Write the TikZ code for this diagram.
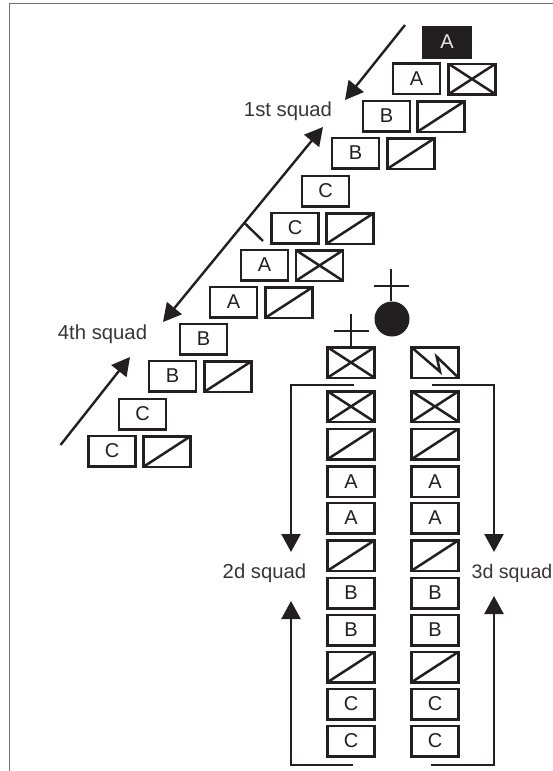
\documentclass[tikz,border=0pt]{standalone}
\usepackage{fontspec}
\setmainfont{Liberation Sans}
\usetikzlibrary{arrows.meta}
\definecolor{ink}{HTML}{231F20}
\definecolor{framegray}{HTML}{707070}
\tikzset{
  unitbox/.style={draw=ink,line width=2.5pt,minimum width=47pt,minimum height=30.5pt,inner sep=0pt,
    text=ink,font=\fontsize{20}{21}\selectfont,fill=white},
  blackbox/.style={unitbox,fill=ink,draw=ink,text=white!90!black},
  diagbox/.style={unitbox,path picture={\draw[ink,line width=2.5pt]
    (path picture bounding box.south west)--(path picture bounding box.north east);}},
  crossbox/.style={unitbox,path picture={\draw[ink,line width=2.5pt]
    (path picture bounding box.south west)--(path picture bounding box.north east)
    (path picture bounding box.north west)--(path picture bounding box.south east);}},
  boltbox/.style={unitbox,path picture={\draw[ink,line width=2.5pt]
    (path picture bounding box.north west)
    --([shift={(5,9.2)}]path picture bounding box.center)
    --([shift={(1.7,-5.8)}]path picture bounding box.center)
    --(path picture bounding box.south east);}},
  conn/.style={draw=ink,line width=2.4pt},
  head/.style={conn,-{Triangle[length=18pt,width=19pt]}},
  squadlabel/.style={inner sep=0pt,text=ink!90!white,font=\fontsize{20.3}{21}\selectfont},
  framerule/.style={draw=framegray,line width=1pt},
}
\begin{document}
\begin{tikzpicture}[x=1pt,y=-1pt]
\useasboundingbox (0,0) rectangle (553,771);
% frame
\coordinate (fa) at (9.5,771); \coordinate (fb) at (9.5,3.5); \coordinate (fc) at (553,3.5);
\draw[framerule] (fa)--(fb)--(fc);
% staggered files
\node[blackbox] (r1a) at (447,42) {A};
\node[unitbox] (r2a) at (416.5,78.5) {A};
\node[crossbox] (r2b) at (472,79) {};
\node[unitbox] (r3a) at (386.5,116) {B};
\node[diagbox] (r3b) at (441,116.5) {};
\node[unitbox] (r4a) at (355.5,153) {B};
\node[diagbox] (r4b) at (411,153.5) {};
\node[unitbox] (r5a) at (325.5,191) {C};
\node[unitbox] (r6a) at (295,228) {C};
\node[diagbox] (r6b) at (350,228.5) {};
\node[unitbox] (r7a) at (264.5,265) {A};
\node[crossbox] (r7b) at (319.5,265.5) {};
\node[unitbox] (r8a) at (233.5,302) {A};
\node[diagbox] (r8b) at (289,302.5) {};
\node[unitbox] (r9a) at (203.5,339) {B};
\node[unitbox] (r10a) at (172.5,376) {B};
\node[diagbox] (r10b) at (228,376.5) {};
\node[unitbox] (r11a) at (142.5,414) {C};
\node[unitbox] (r12a) at (112,451) {C};
\node[diagbox] (r12b) at (167,451.5) {};
% columns
\node[crossbox] (lhq) at (351,362.5) {};
\node[boltbox] (rhq) at (435,362.5) {};
\foreach \n/\x in {l/351,r/435}{
  \node[crossbox] (\n1) at (\x,406.5) {};
  \node[diagbox]  (\n2) at (\x,444) {};
  \node[unitbox]  (\n3) at (\x,481.5) {A};
  \node[unitbox]  (\n4) at (\x,518) {A};
  \node[diagbox]  (\n5) at (\x,555.5) {};
  \node[unitbox]  (\n6) at (\x,593) {B};
  \node[unitbox]  (\n7) at (\x,630) {B};
  \node[diagbox]  (\n8) at (\x,667) {};
  \node[unitbox]  (\n9) at (\x,704) {C};
  \node[unitbox]  (\n10) at (\x,741) {C};
}
% leader symbol
\node[circle,fill=ink,minimum size=35pt,inner sep=0pt] (ldr) at (392,319) {};
\coordinate (ldrtop) at (391,269); \coordinate (ldrl) at (374,286); \coordinate (ldrr) at (408.5,286);
\draw[conn] (ldrtop)--(ldrtop|-ldr.north) (ldrl)--(ldrr);
\coordinate (hqtop) at (351,314); \coordinate (hql) at (333.5,331); \coordinate (hqr) at (368.5,331);
\draw[conn] (hqtop)--(lhq.north) (hql)--(hqr);
% labels
\node[squadlabel] (s1) at (288,111) {1st squad};
\node[squadlabel] (s4) at (102.5,334) {4th squad};
\node[squadlabel] (s2) at (264.5,573) {2d squad};
\node[squadlabel,anchor=west,font=\fontsize{19.6}{21}\selectfont] (s3) at (471.5,573) {3d squad};
% arrows in the staggered files
\coordinate (a1s) at (405,25); \coordinate (a1e) at (345,100);
\draw[head] (a1s)--(a1e);
\coordinate (a2s) at (323,127); \coordinate (a2e) at (163,322);
\draw[conn,{Triangle[length=18pt,width=19pt]}-{Triangle[length=18pt,width=19pt]}] (a2s)--(a2e);
\coordinate (tka) at (244,222.5); \coordinate (tkb) at (263,241);
\draw[conn] (tka)--(tkb);
\coordinate (a3s) at (60.5,445); \coordinate (a3e) at (130,357);
\draw[head] (a3s)--(a3e);
% arrows beside columns
\coordinate (b1s) at (353.5,385); \coordinate (b1m) at (291,385); \coordinate (b1e) at (291,552);
\draw[head] (b1s)--(b1m)--(b1e);
\coordinate (b2s) at (432,385); \coordinate (b2m) at (494,385); \coordinate (b2e) at (494,552);
\draw[head] (b2s)--(b2m)--(b2e);
\coordinate (b3s) at (353,765); \coordinate (b3m) at (291,765); \coordinate (b3e) at (291,601);
\draw[head] (b3s)--(b3m)--(b3e);
\coordinate (b4s) at (431,765); \coordinate (b4m) at (494,765); \coordinate (b4e) at (494,596);
\draw[head] (b4s)--(b4m)--(b4e);
\end{tikzpicture}
\end{document}
